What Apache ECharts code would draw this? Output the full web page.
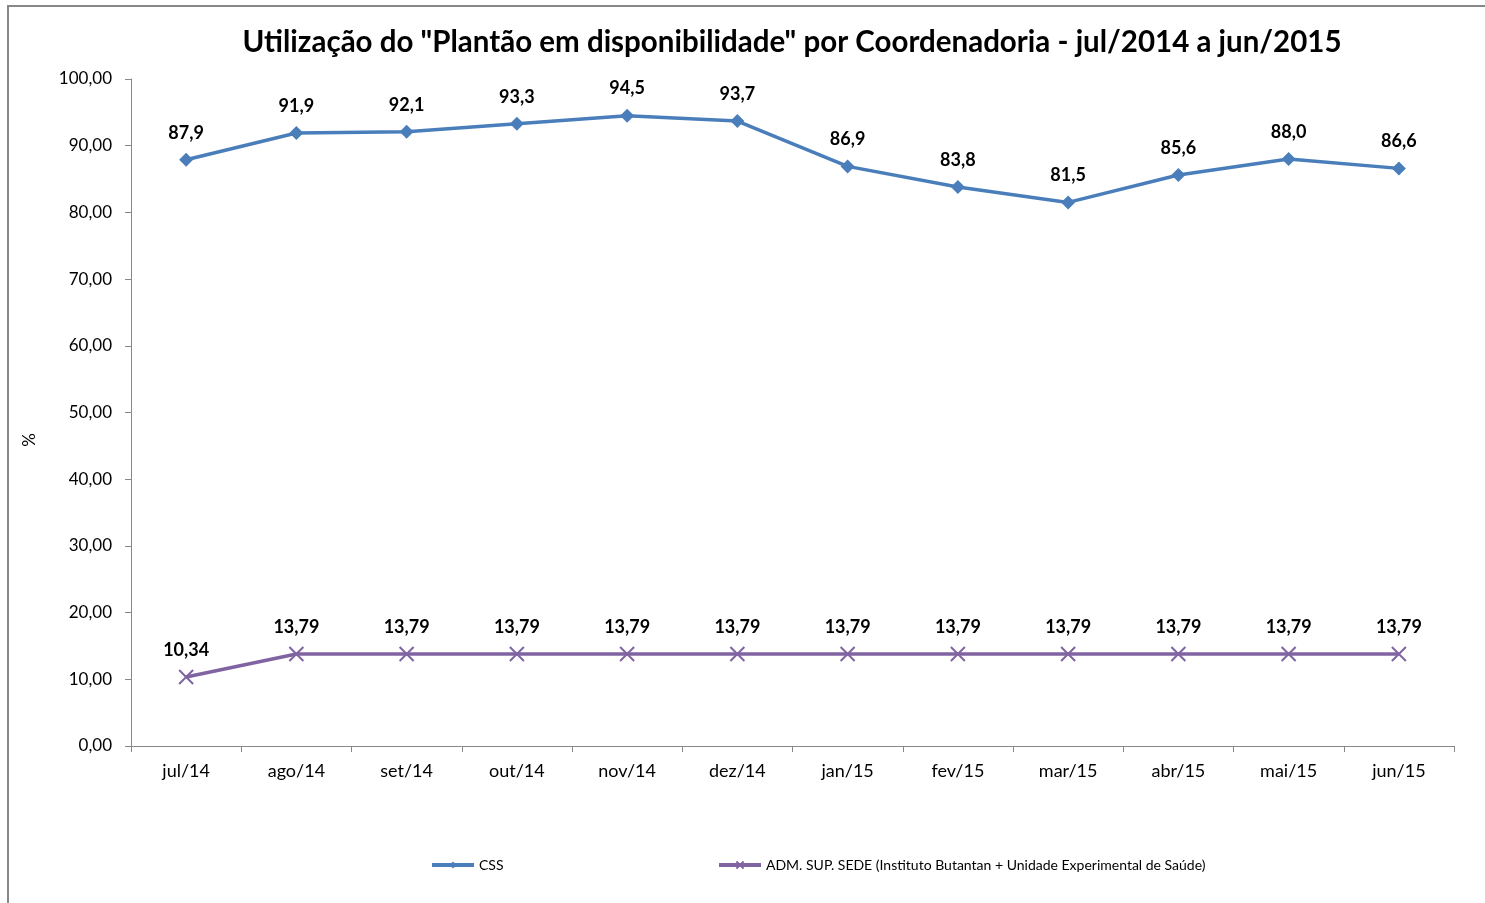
<!DOCTYPE html>
<html>
<head>
<meta charset="utf-8">
<title>Plantão em disponibilidade</title>
<script src="https://cdn.jsdelivr.net/npm/echarts@6/dist/echarts.min.js"></script>
<style>
  html, body { margin: 0; padding: 0; background: #fff; }
  #main { width: 1485px; height: 903px; }
</style>
</head>
<body>
<div id="main"></div>
<script>
// dados
var meses = ['jul/14', 'ago/14', 'set/14', 'out/14', 'nov/14', 'dez/14',
             'jan/15', 'fev/15', 'mar/15', 'abr/15', 'mai/15', 'jun/15'];
var css = [87.9, 91.9, 92.1, 93.3, 94.5, 93.7, 86.9, 83.8, 81.5, 85.6, 88.0, 86.6];
var admSede = [10.34, 13.79, 13.79, 13.79, 13.79, 13.79, 13.79, 13.79, 13.79, 13.79, 13.79, 13.79];
var nomeCss = 'CSS';
var nomeAdm = 'ADM. SUP. SEDE (Instituto Butantan + Unidade Experimental de Saúde)';

var fonte = 'Lato, "Open Sans", sans-serif';

var myChart = echarts.init(document.getElementById('main'));

function virgula(v, casas) {
    return v.toFixed(casas).replace('.', ',');
}

var option = {
    backgroundColor: '#fff',
    animation: false,
    textStyle: { fontFamily: fonte },
    title: {
        text: 'Utilização do "Plantão em disponibilidade" por Coordenadoria - jul/2014 a jun/2015',
        left: 787,
        textAlign: 'center',
        top: 22,
        textStyle: {
            fontFamily: fonte,
            fontSize: 29.5,
            fontWeight: 'bold',
            color: '#000'
        }
    },
    graphic: [{
        // moldura do gráfico
        type: 'polyline',
        shape: { points: [[8, 903], [8, 6], [1485, 6]] },
        style: { stroke: '#888', lineWidth: 2, fill: null }
    }, {
        // nome do eixo y (fora do centro, como no original)
        type: 'text',
        x: 30,
        y: 440,
        rotation: Math.PI / 2,
        style: {
            text: '%',
            fontFamily: fonte,
            fontSize: 17,
            fill: '#000',
            align: 'center',
            verticalAlign: 'middle'
        }
    }],
    legend: [{
        data: [nomeCss],
        left: 425,
        top: 853,
        itemWidth: 42,
        itemHeight: 9,
        lineStyle: { width: 4 },
        textStyle: { fontSize: 14, color: '#000', fontFamily: fonte }
    }, {
        data: [nomeAdm],
        left: 712,
        top: 853,
        itemWidth: 42,
        itemHeight: 9,
        lineStyle: { width: 4 },
        textStyle: { fontSize: 14, color: '#000', fontFamily: fonte }
    }],
    grid: {
        left: 131,
        right: 31,
        top: 79,
        bottom: 157,
        containLabel: false
    },
    xAxis: [{
        type: 'category',
        data: meses,
        boundaryGap: true,
        axisLine: { lineStyle: { color: '#888', width: 1 } },
        axisTick: { show: true, alignWithLabel: false, length: 6, lineStyle: { color: '#888' } },
        axisLabel: { color: '#000', fontSize: 18, margin: 16 }
    }],
    yAxis: [{
        type: 'value',
        min: 0,
        max: 100,
        interval: 10,
        axisLine: { show: true, lineStyle: { color: '#888', width: 1 } },
        axisTick: { show: true, length: 6, lineStyle: { color: '#888' } },
        splitLine: { show: false },
        axisLabel: {
            color: '#000',
            fontSize: 17,
            margin: 19,
            formatter: function (v) { return virgula(v, 2); }
        }
    }],
    series: [{
        name: nomeCss,
        type: 'line',
        data: css,
        symbol: 'diamond',
        symbolSize: 14,
        lineStyle: { width: 3.5, color: '#4A7EBB' },
        itemStyle: { color: '#4A7EBB' },
        label: {
            show: true,
            position: 'top',
            distance: 11,
            color: '#000',
            fontSize: 18,
            fontWeight: 'bold',
            formatter: function (p) { return virgula(p.value, 1); }
        }
    }, {
        name: nomeAdm,
        type: 'line',
        data: admSede,
        symbol: 'path://M0,0 L2,2 M2,0 L0,2',
        symbolSize: 14,
        lineStyle: { width: 3.5, color: '#8064A2' },
        itemStyle: { color: '#8064A2', borderColor: '#8064A2', borderWidth: 2 },
        label: {
            show: true,
            position: 'top',
            distance: 10,
            color: '#000',
            fontSize: 18,
            fontWeight: 'bold',
            formatter: function (p) { return virgula(p.value, 2); }
        }
    }]
};

myChart.setOption(option);
</script>
</body>
</html>
